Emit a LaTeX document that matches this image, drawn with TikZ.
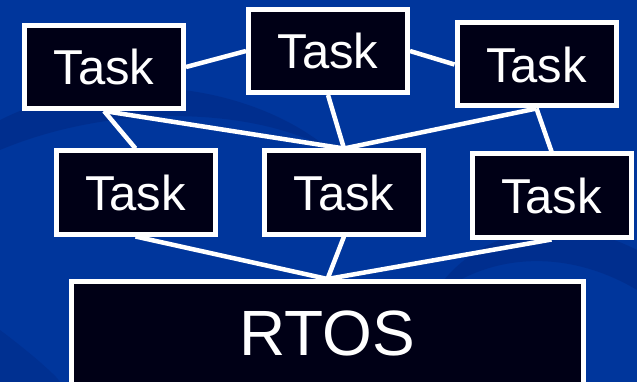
\documentclass[tikz,border=0pt]{standalone}
\usepackage{fontspec}
\setmainfont{Liberation Sans}
\definecolor{bgblue}{RGB}{0,54,156}
\definecolor{swirl}{RGB}{0,40,130}
\definecolor{boxfill}{RGB}{0,0,22}
\pgfdeclarelayer{bg}
\pgfdeclarelayer{lines}
\pgfsetlayers{bg,lines,main}
\tikzset{
  taskbox/.style={draw=white, fill=boxfill, line width=5pt, text=white,
    minimum width=159pt, minimum height=83pt, inner sep=0pt,
    font=\fontsize{49}{52}\selectfont},
  osbox/.style={draw=white, fill=boxfill, line width=5pt, text=white,
    minimum width=512pt, minimum height=103pt, inner sep=0pt,
    font=\fontsize{64}{67}\selectfont},
  link/.style={draw=white, line width=4.5pt}
}
\begin{document}
\begin{tikzpicture}[x=1pt,y=-1pt]
\useasboundingbox (0,0) rectangle (637,382);
\begin{pgfonlayer}{bg}
\fill[bgblue] (0,0) rectangle (637,382);
\fill[swirl, opacity=0.5] (0,120) .. controls (120,60) and (260,90) .. (330,150) .. controls (260,110) and (120,100) .. (0,150) -- cycle;
\fill[swirl, opacity=0.5] (637,250) .. controls (560,210) and (470,230) .. (430,300) .. controls (490,250) and (570,250) .. (637,290) -- cycle;
\fill[swirl, opacity=0.4] (0,330) .. controls (40,360) and (60,380) .. (60,382) -- (0,382) -- cycle;
\end{pgfonlayer}
\node[taskbox] (tl) at (104,67) {Task};
\node[taskbox] (tm) at (328,51) {Task};
\node[taskbox] (tr) at (536.5,64.5) {Task};
\node[taskbox] (ml) at (135.5,192.5) {Task};
\node[taskbox] (mc) at (344,192.5) {Task};
\node[taskbox] (mr) at (551.5,195.5) {Task};
\node[osbox] (os) at (327.5,333) {RTOS};
\begin{pgfonlayer}{lines}
\draw[link] (tl.east) -- (tm.west);
\draw[link] (tm.east) -- (tr.west);
\draw[link] (tl.south) -- (ml.north);
\draw[link] (tl.south) -- (mc.north);
\draw[link] (tm.south) -- (mc.north);
\draw[link] (tr.south) -- (mc.north);
\draw[link] (tr.south) -- (mr.north);
\draw[link] (ml.south) -- (os.north);
\draw[link] (mc.south) -- (os.north);
\draw[link] (mr.south) -- (os.north);
\end{pgfonlayer}
\end{tikzpicture}
\end{document}
